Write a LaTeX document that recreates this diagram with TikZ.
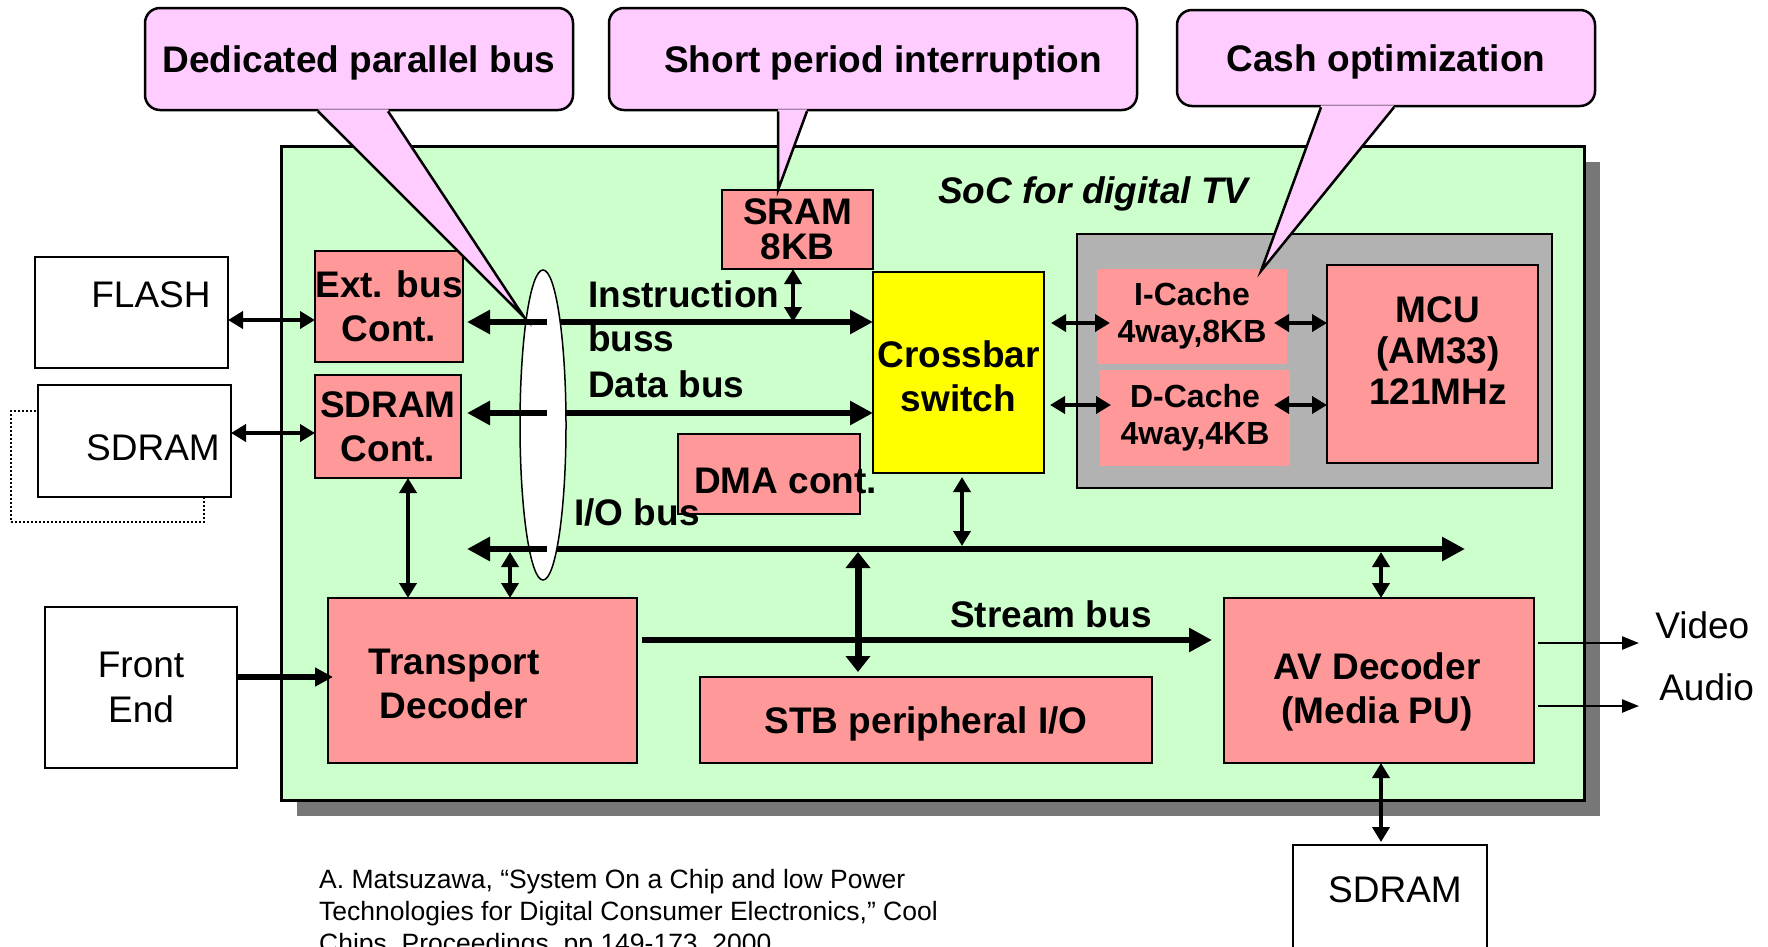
\documentclass[tikz,border=0pt]{standalone}
\usepackage{fontspec}
\setmainfont{Liberation Sans}
\usetikzlibrary{arrows.meta,calc,positioning,shapes.geometric,shadows}
\definecolor{socgreen}{HTML}{CCFFCC}
\definecolor{blockred}{HTML}{FF9999}
\definecolor{bubblepink}{HTML}{FFCCFF}
\definecolor{cachegray}{HTML}{B2B2B2}
\definecolor{shadowgray}{HTML}{777777}
\definecolor{xbaryellow}{HTML}{FFFF00}

\begin{document}
\begin{tikzpicture}[x=1pt,y=-1pt,
  blk/.style={draw,line width=2pt,fill=blockred,inner sep=0pt,outer sep=0pt,align=center,font=\fontsize{37}{44}\selectfont\bfseries},
  ext/.style={draw,line width=2.5pt,fill=white,inner sep=0pt,outer sep=0pt,align=center,font=\fontsize{37}{45}\selectfont},
  lbl/.style={inner sep=0pt,align=center,font=\fontsize{37}{44}\selectfont\bfseries},
  reg/.style={inner sep=0pt,font=\fontsize{37}{44}\selectfont},
  bubble/.style={draw,line width=2.5pt,fill=bubblepink,rounded corners=15pt,inner sep=0pt,text depth=0pt,font=\fontsize{37}{44}\selectfont\bfseries},
  bus/.style={line width=6pt,-{Triangle[length=23pt,width=23pt]}},
  link/.style={line width=4.5pt,{Triangle[length=15pt,width=17pt]}-{Triangle[length=15pt,width=17pt]}},
  fatlink/.style={line width=7pt,{Triangle[length=16pt,width=24pt]}-{Triangle[length=16pt,width=24pt]}},
  feed/.style={line width=6pt,-{Triangle[length=18pt,width=18pt]}},
  wire/.style={line width=2.5pt,-{Triangle[length=17pt,width=13pt]}},
]
\useasboundingbox (0,0) rectangle (1768,946);
\clip (0,0) rectangle (1768,946);

% SoC frame
\node[draw,line width=3pt,fill=socgreen,inner sep=0pt,minimum width=1303pt,minimum height=654pt,
  drop shadow={shadow xshift=16pt,shadow yshift=-16pt,fill=shadowgray,opacity=1}] (soc) at (932.5,473) {};
\node[lbl,anchor=base west,font=\fontsize{37}{44}\selectfont\bfseries\itshape] (soctitle) at (938,203) {SoC for digital TV};

% CPU core with caches
\node[draw,line width=2pt,fill=cachegray,inner sep=0pt,minimum width=475pt,minimum height=254pt] (cpu) at (1314.5,361) {};
\node[blk,draw=none,font=\fontsize{32}{37}\selectfont\bfseries,minimum width=190pt,minimum height=95pt] (icache) at (1192,316) {I-Cache\\4way,8KB};
\node[blk,draw=none,font=\fontsize{32}{37}\selectfont\bfseries,minimum width=190pt,minimum height=96pt] (dcache) at (1195,418) {D-Cache\\4way,4KB};
\node[blk,minimum width=211pt,minimum height=198pt] (mcu) at (1432.5,364) {};
\node[lbl,anchor=north,font=\fontsize{37}{41}\selectfont\bfseries] (mculbl) at (1438,296.5) {MCU\\(AM33)\\121MHz};

% on-chip blocks
\node[blk,minimum width=148pt,minimum height=111pt] (extc) at (389,306.5) {Ext. bus\\Cont.};
\node[blk,minimum width=146pt,minimum height=103pt] (sdc) at (388,426.5) {SDRAM\\Cont.};
\node[blk,font=\fontsize{37}{35}\selectfont\bfseries,minimum width=151pt,minimum height=79pt] (sram) at (797.5,229.5) {SRAM\\8KB};
\node[blk,fill=xbaryellow,minimum width=171pt,minimum height=201pt] (xbar) at (958.5,372.5) {};
\node[lbl,anchor=north] (xbarlbl) at (958.5,340.5) {Crossbar\\switch};
\node[blk,minimum width=182pt,minimum height=80pt] (dma) at (769,474) {};
\node[blk,minimum width=309pt,minimum height=165pt] (td) at (482.5,680.5) {};
\node[blk,text depth=0pt,minimum width=452pt,minimum height=86pt] (stb) at (926,720) {STB peripheral I/O};
\node[blk,minimum width=310pt,minimum height=165pt] (av) at (1379,680.5) {};

% external parts
\node[draw,line width=2pt,dash pattern=on 2pt off 2pt,inner sep=0pt,minimum width=193pt,minimum height=111pt] (sdramsh) at (107.5,466.5) {};
\node[ext,minimum width=193pt,minimum height=112pt] (sdramx) at (134.5,441) {};
\node[ext,minimum width=193pt,minimum height=111pt] (flash) at (131.5,312.5) {};
\node[ext,minimum width=192pt,minimum height=161pt] (fe) at (141,687.5) {Front\\End};
\node[ext,minimum width=194pt,minimum height=200pt] (sdramb) at (1390,945) {};

% buses
\coordinate (ibus) at (547,322);
\coordinate (dbus) at (547,413);
\coordinate (iobus) at (547,549);
\coordinate (ioend) at (1465,549);
\draw[bus] (ibus) -- (ibus -| xbar.west);
\draw[bus] (dbus) -- (dbus -| xbar.west);
\draw[bus] (iobus) -- (ioend);
\draw[bus] ($(td.east)+(5,-40.5)$) -- ($(av.west)+(-12,-40.5)$);

% links
\draw[link] ($(flash.east)+(0,7.5)$) -- ($(flash.east -| extc.west)+(0,7.5)$);
\draw[link] ($(sdramx.east)+(0,-8)$) -- ($(sdramx.east -| sdc.west)+(0,-8)$);
\draw[link] ($(sram.south)+(-4.5,0)$) -- ($(sram.south |- ibus)+(-4.5,0)$);
\draw[link] ($(sdc.south)+(20,0)$) -- ($(sdc.south |- td.north)+(20,0)$);
\draw[link,shorten <=3pt] ($(td.north |- iobus)+(27.5,0)$) -- ($(td.north)+(27.5,0)$);
\draw[link,shorten <=4pt,shorten >=3pt] ($(xbar.south)+(3.5,0)$) -- ($(xbar.south |- iobus)+(3.5,0)$);
\draw[fatlink,shorten <=3pt,shorten >=5pt] ($(stb.north |- iobus)+(-68,0)$) -- ($(stb.north)+(-68,0)$);
\draw[link,shorten <=3pt] ($(av.north |- iobus)+(2,0)$) -- ($(av.north)+(2,0)$);
\draw[link,shorten >=3pt] ($(av.south)+(2,0)$) -- ($(av.south |- sdramb.north)+(2,0)$);
\draw[link] ($(xbar.east |- icache.center)+(7,7)$) -- ($(icache.west)+(13,7)$);
\draw[link] ($(xbar.east |- dcache.center)+(6,-13)$) -- ($(dcache.west)+(11,-13)$);
\draw[link] ($(icache.east)+(-13,7)$) -- ($(icache.east -| mcu.west)+(0,7)$);
\draw[link] ($(dcache.east)+(-16,-13)$) -- ($(dcache.east -| mcu.west)+(0,-13)$);
\draw[feed] ($(fe.east)+(0,-10.5)$) -- ($(fe.east -| td.west)+(5,-10.5)$);
\draw[wire] ($(av.east)+(4,-37.5)$) -- ++(101,0) node[reg,anchor=base west,xshift=15pt,yshift=5pt] (video) {Video};
\draw[wire] ($(av.east)+(4,25.5)$) -- ++(101,0) node[reg,anchor=base west,xshift=19pt,yshift=6pt] (audio) {Audio};

% parallel bus bundle
\node[draw,ellipse,fill=white,line width=1.5pt,inner sep=0pt,minimum width=46pt,minimum height=310pt] (bundle) at (543,425) {};
\draw[bus,shorten >=4pt] (ibus) -- (ibus -| extc.east);
\draw[bus,shorten >=6pt] (dbus) -- (dbus -| sdc.east);
\draw[bus,shorten >=6pt] (iobus) -- (iobus -| sdc.east);

% labels
\node[reg,anchor=base] (flashlbl) at (151,307) {FLASH};
\node[reg,anchor=base] (sdramxlbl) at (153,460) {SDRAM};
\node[reg,anchor=base] (sdrambl) at (1395,902) {SDRAM};
\node[lbl,anchor=base west] (dmalbl) at (694,493) {DMA cont.};
\node[lbl,anchor=north] (tdlbl) at (454,648.5) {Transport\\Decoder};
\node[lbl,anchor=north] (avlbl) at (1377,652.5) {AV Decoder\\(Media PU)};
\node[lbl,anchor=north west,align=left] (ibuslbl) at (588,280.5) {Instruction\\buss};
\node[lbl,anchor=base west] (dbuslbl) at (588,397) {Data bus};
\node[lbl,anchor=base west] (iobuslbl) at (574,525) {I/O bus};
\node[lbl,anchor=base west] (sbuslbl) at (950,627) {Stream bus};
\node[anchor=north west,align=left,inner sep=0pt,font=\fontsize{26.5}{32}\selectfont] (cite) at (319,869)
  {A. Matsuzawa, “System On a Chip and low Power\\Technologies for Digital Consumer Electronics,” Cool\\Chips, Proceedings, pp.149-173, 2000.};

% callouts
\node[bubble,minimum width=428pt,minimum height=102pt] (cbus) at (359,59) {Dedicated parallel bus};
\node[bubble,minimum width=528pt,minimum height=102pt] (cint) at (873,59) {\hspace*{20pt}Short period interruption};
\node[bubble,minimum width=418pt,minimum height=96pt] (ccache) at (1386,58) {Cash optimization};
\coordinate (tipbus) at (524,317);
\coordinate (tipint) at (778,190);
\coordinate (tipcache) at (1261,271);
\fill[bubblepink] ($(cbus.south)+(-41,-2)$) -- (tipbus) -- ($(cbus.south)+(29,-2)$) -- cycle;
\draw[line width=2.5pt] ($(cbus.south)+(-41,0)$) -- (tipbus) -- ($(cbus.south)+(29,0)$);
\fill[bubblepink] ($(cint.south)+(-95,-2)$) -- (tipint) -- ($(cint.south)+(-66,-2)$) -- cycle;
\draw[line width=2.5pt] ($(cint.south)+(-95,0)$) -- (tipint) -- ($(cint.south)+(-66,0)$);
\fill[bubblepink] ($(ccache.south)+(-65,-2)$) -- (tipcache) -- ($(ccache.south)+(8,-2)$) -- cycle;
\draw[line width=2.5pt] ($(ccache.south)+(-65,0)$) -- (tipcache) -- ($(ccache.south)+(8,0)$);
\end{tikzpicture}
\end{document}
